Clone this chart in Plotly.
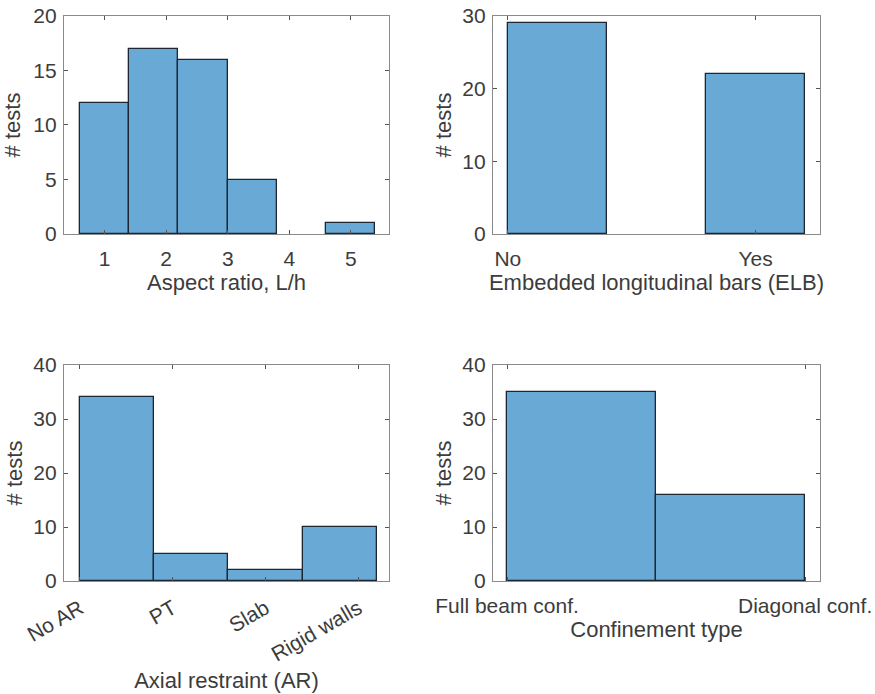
import plotly.graph_objects as go

# ---- data ----
aspect_centers = [1.0, 1.8, 2.6, 3.4, 4.2, 5.0]
aspect_counts = [12, 17, 16, 5, 0, 1]
aspect_ticks = [1, 2, 3, 4, 5]

elb_centers = [0.2, 0.6, 1.0]
elb_counts = [29, 0, 22]
elb_tickvals = [0, 1]
elb_ticktext = ["No", "Yes"]

ar_centers = [1.4, 2.2, 3.0, 3.8]
ar_counts = [34, 5, 2, 10]
ar_tickvals = [1, 2, 3, 4]
ar_ticktext = ["No AR", "PT", "Slab", "Rigid walls"]

conf_centers = [0.25, 0.75]
conf_counts = [35, 16]
conf_tickvals = [0, 1]
conf_ticktext = ["Full beam conf.", "Diagonal conf."]

# ---- style ----
FILL = "#68a9d6"
EDGE = "#1c2733"
AXC = "#8a8a8a"
TXT = "#3c3c3c"
FONT = "Liberation Sans"

fig = go.Figure()

def add_bars(x, y, w, xa, ya):
    lw = [1.3 if v > 0 else 0 for v in y]
    fig.add_trace(go.Bar(x=x, y=y, width=w, marker=dict(color=FILL, line=dict(color=EDGE, width=lw)),
                         xaxis=xa, yaxis=ya, showlegend=False))

add_bars(aspect_centers, aspect_counts, 0.8, "x", "y")
add_bars(elb_centers, elb_counts, 0.4, "x2", "y2")
add_bars(ar_centers, ar_counts, 0.8, "x3", "y3")
add_bars(conf_centers, conf_counts, 0.5, "x4", "y4")

xl = [0.07314, 0.44457]
xr = [0.56343, 0.93714]
yt = [0.66282, 0.97695]
yb = [0.16282, 0.47406]

def axcommon(xaxis=True):
    d = dict(showline=True, linecolor=AXC, linewidth=1.2, mirror="ticks", ticks="inside",
             ticklen=4, tickcolor="#555555", tickwidth=1, showgrid=False, zeroline=False,
             automargin=False, tickfont=dict(family=FONT, size=21, color=TXT))
    if xaxis:
        d["ticklabelstandoff"] = 6
    else:
        d["ticklabelstandoff"] = 2
    return d

def ttl(t, s):
    return dict(text=t, font=dict(family=FONT, size=22, color=TXT), standoff=s)

fig.update_layout(
    width=875, height=694, margin=dict(l=0, r=0, t=0, b=0),
    paper_bgcolor="white", plot_bgcolor="white", bargap=0,
    xaxis=dict(domain=xl, anchor="y", range=[0.34, 5.62], tickmode="array", tickvals=aspect_ticks,
               title=ttl("Aspect ratio, L/h", 4), **axcommon()),
    yaxis=dict(domain=yt, anchor="x", range=[0, 20], tickmode="array", tickvals=[0, 5, 10, 15, 20],
               title=ttl("# tests", 8), **axcommon(False)),
    xaxis2=dict(domain=xr, anchor="y2", range=[-0.06, 1.26], tickmode="array", tickvals=elb_tickvals,
                ticktext=elb_ticktext, title=ttl("Embedded longitudinal bars (ELB)", 4), **axcommon()),
    yaxis2=dict(domain=yt, anchor="x2", range=[0, 30], tickmode="array", tickvals=[0, 10, 20, 30],
                title=ttl("# tests", 4), **axcommon(False)),
    xaxis3=dict(domain=xl, anchor="y3", range=[0.828, 4.33], tickmode="array", tickvals=ar_tickvals,
                ticktext=ar_ticktext, tickangle=-30, title=ttl("Axial restraint (AR)", 8), **axcommon()),
    yaxis3=dict(domain=yb, anchor="x3", range=[0, 40], tickmode="array", tickvals=[0, 10, 20, 30, 40],
                title=ttl("# tests", 4), **axcommon(False)),
    xaxis4=dict(domain=xr, anchor="y4", range=[-0.047, 1.05], tickmode="array", tickvals=conf_tickvals,
                ticktext=conf_ticktext, title=ttl("Confinement type", 4), **axcommon()),
    yaxis4=dict(domain=yb, anchor="x4", range=[0, 40], tickmode="array", tickvals=[0, 10, 20, 30, 40],
                title=ttl("# tests", 4), **axcommon(False)),
)

fig.write_html("out.html")
